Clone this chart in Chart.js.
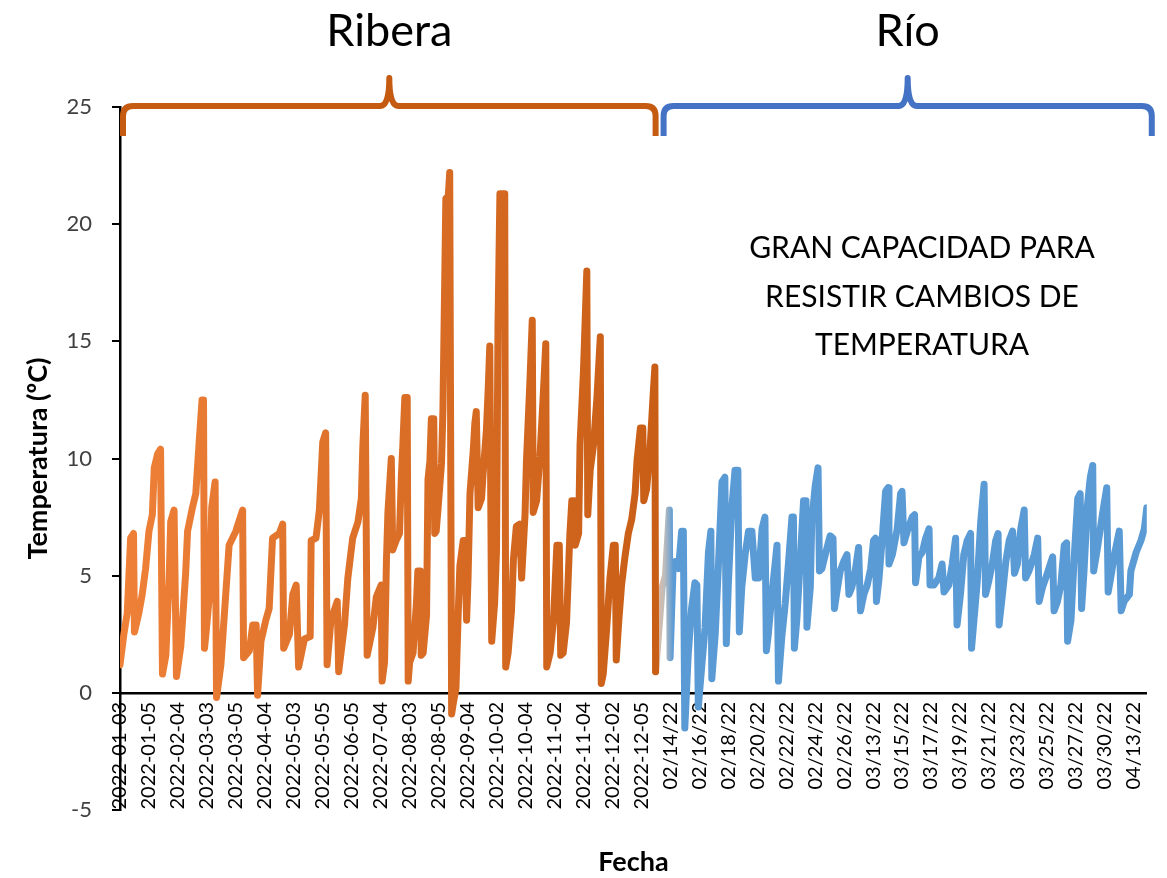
<!DOCTYPE html>
<html lang="es">
<head>
<meta charset="utf-8">
<title>Temperatura Ribera / Río</title>
<script src="https://cdn.jsdelivr.net/npm/chart.js@4.4.1/dist/chart.umd.min.js"></script>
<style>
  html, body { margin: 0; padding: 0; background: #fff; }
  #caja { width: 1167px; height: 878px; position: relative; }
</style>
</head>
<body>
<div id="caja"><canvas id="grafico"></canvas></div>
<script>
// etiquetas del eje x (una cada 6 posiciones de muestreo)
const fechas = [
  '2022-01-03', '2022-01-05', '2022-02-04', '2022-03-03', '2022-03-05', '2022-04-04',
  '2022-05-03', '2022-05-05', '2022-06-05', '2022-07-04', '2022-08-03', '2022-08-05',
  '2022-09-04', '2022-10-02', '2022-10-04', '2022-11-02', '2022-11-04', '2022-12-02',
  '2022-12-05', '02/14/22', '02/16/22', '02/18/22', '02/20/22', '02/22/22', '02/24/22',
  '02/26/22', '03/13/22', '03/15/22', '03/17/22', '03/19/22', '03/21/22', '03/23/22',
  '03/25/22', '03/27/22', '03/30/22', '04/13/22'
];
const pasoEtiqueta = 6;

// Ribera
const riberaPos = [0, 0.8, 1.5, 2.2, 2.8, 3.0, 3.9, 4.6, 5.3, 6.0, 6.7, 7.1, 7.8, 8.4, 8.8, 9.5, 10.2, 10.5, 11.2, 11.7,
  12.6, 13.6, 14, 15, 15.7, 16.4, 17, 17.3, 17.5, 17.8, 18.5, 19, 19.7, 20, 20.9, 21.9, 22.6, 24, 25.4, 25.6,
  26.8, 27.5, 28.2, 28.5, 29.2, 30.2, 30.9, 31.6, 33, 33.7, 33.9, 35.1, 35.8, 36.5, 37, 38.2, 39.4, 39.6, 40.6, 41.3,
  42, 42.6, 42.9, 43.7, 45, 45.3, 46.5, 47.2, 48.2, 49.3, 50, 50.3, 50.8, 51.2, 52.4, 53.1, 54.1, 54.3, 54.8, 55.2,
  55.5, 56.2, 56.5, 57.2, 57.9, 58.3, 58.6, 59, 59.5, 59.7, 60, 60.7, 61.4, 61.7, 62.2, 62.4, 62.8, 63.5, 63.8, 64.2,
  64.5, 65, 65.2, 65.5, 65.9, 66.6, 66.9, 67.5, 68, 68.3, 68.7, 69, 69.6, 70, 70.4, 71.1, 71.4, 71.8, 72.1, 72.5,
  73.2, 73.5, 73.8, 74.2, 74.9, 75.2, 75.9, 76.3, 76.6, 77, 77.6, 78, 78.3, 78.7, 79.7, 79.9, 80.4, 81.1, 81.5, 82.1,
  82.8, 83.2, 83.9, 84.2, 84.9, 85.4, 85.6, 86.3, 87, 87.7, 88.2, 88.4, 89.1, 89.8, 90.5, 91, 91.3, 91.8, 92.5, 93.2,
  93.6, 94.1, 94.3, 95, 95.3, 96, 96.7, 96.9, 97.4, 98.1, 98.8, 99.5, 99.7, 100.1, 100.8, 101.5, 102.2, 102.6, 102.8, 103.3,
  103.9, 104.6, 105.3, 106, 106.7, 107.1, 107.8, 108.3, 108.5, 109.1, 109.8, 110.5, 110.8, 110.95];
const riberaTemp = [1.2, 2.5, 3.4, 6.6, 6.8, 2.6, 3.4, 4.2, 5.3, 6.9, 7.6, 9.6, 10.2, 10.4, 0.8, 1.6, 5.0, 7.3, 7.8, 0.7,
  2.0, 5.1, 6.9, 7.9, 8.5, 10.7, 12.5, 12.5, 1.9, 2.5, 4.1, 7.9, 9.0, -0.2, 1.2, 4.2, 6.3, 6.9, 7.8, 1.5,
  1.8, 2.9, 2.9, -0.1, 2.2, 3.1, 3.6, 6.6, 6.8, 7.2, 1.9, 2.5, 4.2, 4.6, 1.1, 2.3, 2.4, 6.5, 6.6, 7.8,
  10.7, 11.1, 1.2, 3.1, 3.9, 0.9, 2.9, 4.9, 6.6, 7.3, 8.3, 10.5, 12.7, 1.6, 2.8, 4.1, 4.6, 0.5, 1.3, 5.7,
  7.7, 10.0, 6.1, 6.5, 6.8, 9.3, 10.6, 12.6, 12.6, 0.5, 1.3, 1.7, 3.8, 5.2, 5.2, 1.6, 1.7, 3.3, 9.1, 9.9,
  11.7, 11.7, 6.8, 6.9, 7.9, 9.8, 12.1, 21.1, 21.2, 22.2, -0.9, -0.5, 0.2, 3.0, 5.4, 6.5, 6.5, 3.1, 4.9, 8.5,
  10.4, 11.5, 12.0, 7.9, 8.3, 9.3, 11.2, 13.1, 14.8, 2.2, 3.8, 6.1, 15.6, 21.3, 21.3, 1.1, 1.7, 3.5, 5.7, 7.1,
  7.2, 4.9, 7.6, 9.9, 13.2, 15.9, 7.7, 8.2, 10.1, 12.8, 14.9, 1.1, 1.7, 3.1, 6.3, 6.3, 1.6, 1.7, 3.0, 6.8,
  8.2, 8.2, 6.3, 6.8, 10.6, 13.7, 18.0, 7.6, 9.5, 10.6, 12.6, 15.2, 0.4, 0.8, 2.7, 4.9, 6.3, 6.3, 1.4, 3.0,
  4.6, 5.8, 6.8, 7.4, 8.5, 9.9, 11.3, 11.3, 8.2, 8.7, 10.4, 12.9, 13.9, 0.9];

// tramo de paso entre las dos series
const pasoPos = [110.95, 112.3, 113.0, 113.8, 113.95, 114.6];
const pasoTemp = [0.9, 4.5, 5.0, 7.8, 1.5, 5.5];

// Río
const rioPos = [114.6, 115, 115.7, 116.35, 116.7, 117.0, 117.7, 118.4, 119.1, 119.5, 119.8, 120.5, 121.2, 121.9, 122.4, 122.6, 123.3, 124, 124.7, 125.3,
  125.6, 126.0, 126.7, 127.4, 128, 128.3, 128.8, 129.5, 130.2, 130.9, 131.6, 132.3, 133, 133.6, 133.9, 134.3, 135, 136.1, 136.4, 137.1,
  137.8, 138.5, 139.2, 139.5, 139.7, 140.2, 140.9, 141.6, 142.1, 142.3, 143, 143.3, 144, 144.6, 144.9, 145.4, 146.1, 147.1, 147.7, 148,
  148.5, 149.2, 149.9, 150.6, 151, 151.6, 152.3, 153, 153.4, 154.1, 154.8, 155.5, 156.1, 156.5, 156.7, 157.2, 157.9, 158.6, 159.1, 159.3,
  160, 161, 161.7, 162.0, 162.4, 163.1, 164.1, 164.6, 164.8, 165.5, 166.2, 166.9, 167.6, 167.8, 168.6, 169.6, 170.3, 170.7, 171.7, 172.4,
  173.1, 173.4, 174.1, 174.8, 175.5, 176.2, 176.4, 176.9, 177.6, 178.3, 179, 179.3, 180, 180.7, 181.4, 181.9, 182.1, 182.8, 183.5, 184.2,
  184.9, 185.3, 185.9, 186.6, 187.3, 187.6, 188.3, 189.4, 190.1, 190.4, 191.1, 192.1, 193.2, 193.5, 194.2, 194.9, 195.6, 196.1, 196.3, 197,
  197.7, 198.4, 198.9, 199.2, 199.7, 200.4, 201, 201.5, 201.7, 202.5, 203.5, 204.4, 204.7, 205.3, 206, 207, 207.4, 208.0, 209.1, 209.4,
  210.5, 211.5, 212.2, 212.7];
const rioTemp = [5.5, 5.6, 5.3, 6.9, 6.9, -1.5, 1.6, 3.6, 4.7, 4.6, -0.6, 1.1, 2.8, 6.0, 6.9, 0.6, 2.5, 5.6, 9.0, 9.2,
  2.1, 4.5, 7.8, 9.5, 9.5, 2.6, 4.5, 5.9, 6.9, 6.9, 4.9, 4.9, 7.0, 7.5, 1.8, 2.5, 4.1, 6.3, 0.5, 2.4,
  3.8, 5.6, 7.5, 7.5, 1.9, 3.1, 5.6, 8.2, 8.2, 2.8, 4.5, 7.3, 8.8, 9.6, 5.2, 5.3, 5.9, 6.7, 6.6, 3.6,
  4.3, 5.2, 5.6, 5.9, 4.2, 4.5, 5.2, 6.2, 3.5, 4.2, 4.6, 5.3, 6.5, 6.6, 3.9, 4.8, 6.6, 8.6, 8.75, 5.5,
  5.9, 7.0, 8.5, 8.6, 6.4, 6.9, 7.5, 7.6, 4.7, 5.8, 6.0, 6.6, 7.0, 4.6, 4.6, 4.9, 5.5, 4.3, 4.6, 5.5,
  6.6, 2.9, 4.2, 5.9, 6.5, 6.8, 1.9, 3.1, 4.8, 7.3, 8.9, 4.2, 4.8, 5.5, 6.5, 6.8, 2.9, 4.2, 5.6, 6.5,
  6.9, 5.1, 5.5, 7.0, 7.8, 4.9, 5.2, 5.9, 6.6, 3.9, 4.5, 5.1, 5.8, 3.5, 3.9, 4.6, 6.3, 6.4, 2.2, 3.1,
  5.9, 8.3, 8.5, 3.6, 5.2, 8.0, 9.2, 9.7, 5.2, 6.2, 7.6, 8.75, 4.3, 5.0, 5.9, 6.9, 3.5, 3.9, 4.2, 5.2,
  6.0, 6.5, 7.0, 7.9];

const nota = ['GRAN CAPACIDAD PARA', 'RESISTIR CAMBIOS DE', 'TEMPERATURA'];

const puntos = (pos, temp) => pos.map((x, i) => ({ x: x, y: temp[i] }));

// degradado horizontal entre dos posiciones del eje x
function degradado(ctx, desde, hasta, colores) {
    const chart = ctx.chart;
    if (!chart.chartArea) return colores[0];
    const x = chart.scales.x;
    const g = chart.ctx.createLinearGradient(x.getPixelForValue(desde), 0, x.getPixelForValue(hasta), 0);
    colores.forEach((c, i) => g.addColorStop(i / (colores.length - 1), c));
    return g;
}

function dibujarLlave(ctx, x0, x1, yLinea, color) {
    const xm = (x0 + x1) / 2;
    const r = 10;
    const abajo = yLinea + 30;
    const pico = yLinea - 28;
    ctx.beginPath();
    ctx.moveTo(x0, abajo);
    ctx.lineTo(x0, yLinea + r);
    ctx.quadraticCurveTo(x0, yLinea, x0 + r, yLinea);
    ctx.lineTo(xm - 9, yLinea);
    ctx.quadraticCurveTo(xm, yLinea, xm, pico);
    ctx.quadraticCurveTo(xm, yLinea, xm + 9, yLinea);
    ctx.lineTo(x1 - r, yLinea);
    ctx.quadraticCurveTo(x1, yLinea, x1, yLinea + r);
    ctx.lineTo(x1, abajo);
    ctx.strokeStyle = color;
    ctx.lineWidth = 6;
    ctx.lineJoin = 'round';
    ctx.stroke();
}

const decoraciones = {
    id: 'decoraciones',
    afterDraw(chart) {
        const { ctx, chartArea: area, scales: { x } } = chart;
        const corte = x.getPixelForValue(riberaPos[riberaPos.length - 1]);
        const izq = area.left + 3;
        const der = area.right + 5;
        ctx.save();
        dibujarLlave(ctx, izq, corte, area.top - 1, '#C55A11');
        dibujarLlave(ctx, corte + 8, der, area.top - 1, '#4472C4');

        ctx.fillStyle = '#000';
        ctx.textAlign = 'center';
        ctx.textBaseline = 'alphabetic';
        ctx.font = '45px Lato';
        ctx.fillText('Ribera', (izq + corte) / 2, 46);
        ctx.fillText('Río', (corte + 8 + der) / 2, 46);

        ctx.font = '30px Lato';
        nota.forEach((linea, i) => {
            ctx.fillText(linea, 922, 258 + i * 48.5);
        });
        ctx.restore();
    }
};

Chart.defaults.font.family = 'Lato';

const linea = { borderWidth: 7, pointRadius: 0, tension: 0, borderJoinStyle: 'round', borderCapStyle: 'round' };

new Chart(document.getElementById('grafico'), {
    type: 'line',
    data: {
        datasets: [
            {
                ...linea,
                label: 'Ribera',
                data: puntos(riberaPos, riberaTemp),
                borderColor: (ctx) => degradado(ctx, 0, riberaPos[riberaPos.length - 1], ['#EE8038', '#C95E17'])
            },
            {
                ...linea,
                label: 'Paso',
                data: puntos(pasoPos, pasoTemp),
                borderColor: (ctx) => degradado(ctx, pasoPos[0], pasoPos[pasoPos.length - 1], ['#EBB99C', '#BDBDBD', '#5B9BD5'])
            },
            {
                ...linea,
                label: 'Río',
                data: puntos(rioPos, rioTemp),
                borderColor: '#5B9BD5'
            }
        ]
    },
    options: {
        responsive: true,
        maintainAspectRatio: false,
        animation: false,
        layout: {
            padding: { top: 107, right: 20, bottom: 68, left: 20 }
        },
        plugins: {
            legend: { display: false },
            tooltip: { enabled: false }
        },
        scales: {
            x: {
                type: 'linear',
                position: { y: 0 },
                min: 0,
                max: rioPos[rioPos.length - 1],
                afterBuildTicks: (scale) => {
                    scale.ticks = fechas.map((_, k) => ({ value: k * pasoEtiqueta }));
                },
                grid: { display: false, drawTicks: false },
                border: { display: true, color: '#000', width: 2.5 },
                ticks: {
                    autoSkip: false,
                    minRotation: 90,
                    maxRotation: 90,
                    padding: 9,
                    color: '#000',
                    font: { size: 20 },
                    callback: (value) => fechas[Math.round(value / pasoEtiqueta)]
                },
                title: {
                    display: true,
                    text: 'Fecha',
                    color: '#000',
                    font: { size: 27, weight: 'bold' },
                    padding: { top: 28, bottom: 0 }
                }
            },
            y: {
                min: -5,
                max: 25,
                afterFit: (scale) => { scale.width = 100; },
                grid: { drawOnChartArea: false, drawTicks: true, tickLength: 8, color: '#000', lineWidth: 2 },
                border: { display: true, color: '#000', width: 2.5 },
                ticks: {
                    stepSize: 5,
                    padding: 20,
                    color: '#404040',
                    font: { size: 22 }
                },
                title: {
                    display: true,
                    text: 'Temperatura (ºC)',
                    color: '#000',
                    font: { size: 27, weight: 'bold' },
                    padding: { top: 2, bottom: 0 }
                }
            }
        }
    },
    plugins: [decoraciones]
});
</script>
</body>
</html>
